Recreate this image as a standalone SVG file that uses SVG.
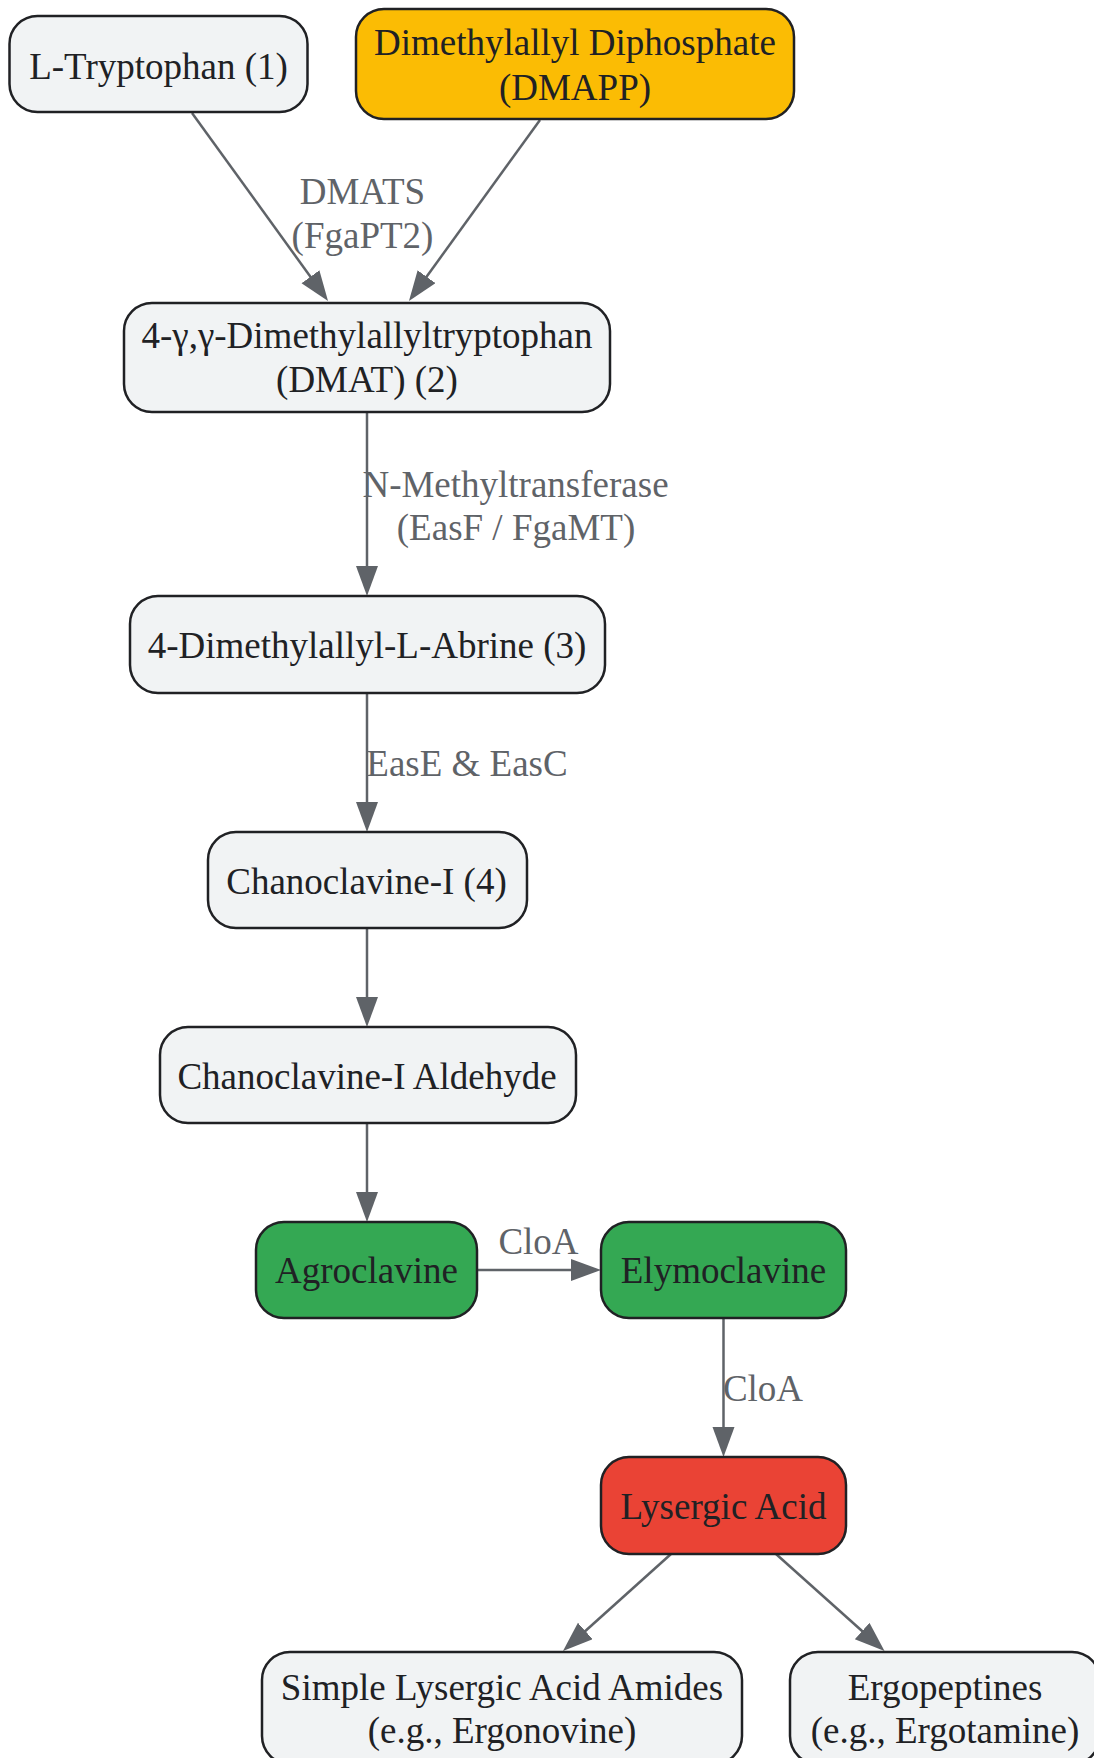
<svg xmlns="http://www.w3.org/2000/svg" width="1094" height="1758" viewBox="0 0 1094 1758">
<style>
.node rect{fill:#f1f3f4;stroke:#202124;stroke-width:2.5}
.node text{font-family:"Liberation Serif","Times New Roman",serif;font-size:37px;fill:#202124;text-anchor:middle}
.edge{fill:none;stroke:#5f6368;stroke-width:2.5;marker-end:url(#arrow)}
.elabel{font-family:"Liberation Serif","Times New Roman",serif;font-size:37px;fill:#5f6368;text-anchor:middle}
.yellow rect{fill:#fbbc04}
.green rect{fill:#34a853}
.red rect{fill:#ea4335}
</style>
<defs>
<marker id="arrow" markerUnits="userSpaceOnUse" markerWidth="32" markerHeight="24" refX="25" refY="11" orient="auto">
<path d="M0,0 L30,11 L0,22 z" fill="#5f6368"/>
</marker>
</defs>
<rect width="1094" height="1758" fill="#ffffff"/>
<g id="connectors">
<line class="edge" x1="192" y1="113" x2="325.1" y2="297"/>
<line class="edge" x1="540" y1="120" x2="411.9" y2="297"/>
<line class="edge" x1="367" y1="412" x2="367" y2="591"/>
<line class="edge" x1="367" y1="693" x2="367" y2="827"/>
<line class="edge" x1="367" y1="928" x2="367" y2="1022"/>
<line class="edge" x1="367" y1="1123" x2="367" y2="1217"/>
<line class="edge" x1="477" y1="1270" x2="596" y2="1270"/>
<line class="edge" x1="723.5" y1="1318" x2="723.5" y2="1452"/>
<line class="edge" x1="671" y1="1554" x2="566.7" y2="1647.7"/>
<line class="edge" x1="776" y1="1554" x2="880.8" y2="1647.7"/>
<text class="elabel" x="362.5" y="203.5">DMATS</text>
<text class="elabel" x="362.5" y="247.5">(FgaPT2)</text>
<text class="elabel" x="515.5" y="496.5">N-Methyltransferase</text>
<text class="elabel" x="516" y="540">(EasF / FgaMT)</text>
<text class="elabel" x="467" y="776">EasE &amp; EasC</text>
<text class="elabel" x="538.5" y="1253.5">CloA</text>
<text class="elabel" x="763" y="1401">CloA</text>
</g>
<g id="n1" class="node"><rect x="9.5" y="16" width="298" height="96" rx="28"/><text x="158.5" y="78.5">L-Tryptophan (1)</text></g>
<g id="n2" class="node yellow"><rect x="356" y="9" width="438" height="110" rx="28"/><text x="575" y="55">Dimethylallyl Diphosphate</text><text x="575" y="99.5">(DMAPP)</text></g>
<g id="n3" class="node"><rect x="124" y="303" width="486" height="109" rx="28"/><text x="367" y="348">4-γ,γ-Dimethylallyltryptophan</text><text x="367" y="392">(DMAT) (2)</text></g>
<g id="n4" class="node"><rect x="130" y="596" width="475" height="97" rx="28"/><text x="367" y="658">4-Dimethylallyl-L-Abrine (3)</text></g>
<g id="n5" class="node"><rect x="208" y="832" width="319" height="96" rx="28"/><text x="366.5" y="894">Chanoclavine-I (4)</text></g>
<g id="n6" class="node"><rect x="160" y="1027" width="416" height="96" rx="28"/><text x="367" y="1089">Chanoclavine-I Aldehyde</text></g>
<g id="n7" class="node green"><rect x="256" y="1222" width="221" height="96" rx="28"/><text x="366.5" y="1283">Agroclavine</text></g>
<g id="n8" class="node green"><rect x="601" y="1222" width="245" height="96" rx="28"/><text x="723.5" y="1283">Elymoclavine</text></g>
<g id="n9" class="node red"><rect x="601" y="1457" width="245" height="97" rx="28"/><text x="723.5" y="1519">Lysergic Acid</text></g>
<g id="n10" class="node"><rect x="262" y="1652" width="480" height="112" rx="28"/><text x="502" y="1700">Simple Lysergic Acid Amides</text><text x="502" y="1743">(e.g., Ergonovine)</text></g>
<g id="n11" class="node"><rect x="790" y="1652" width="310" height="112" rx="28"/><text x="945" y="1700">Ergopeptines</text><text x="945" y="1743">(e.g., Ergotamine)</text></g>
</svg>
